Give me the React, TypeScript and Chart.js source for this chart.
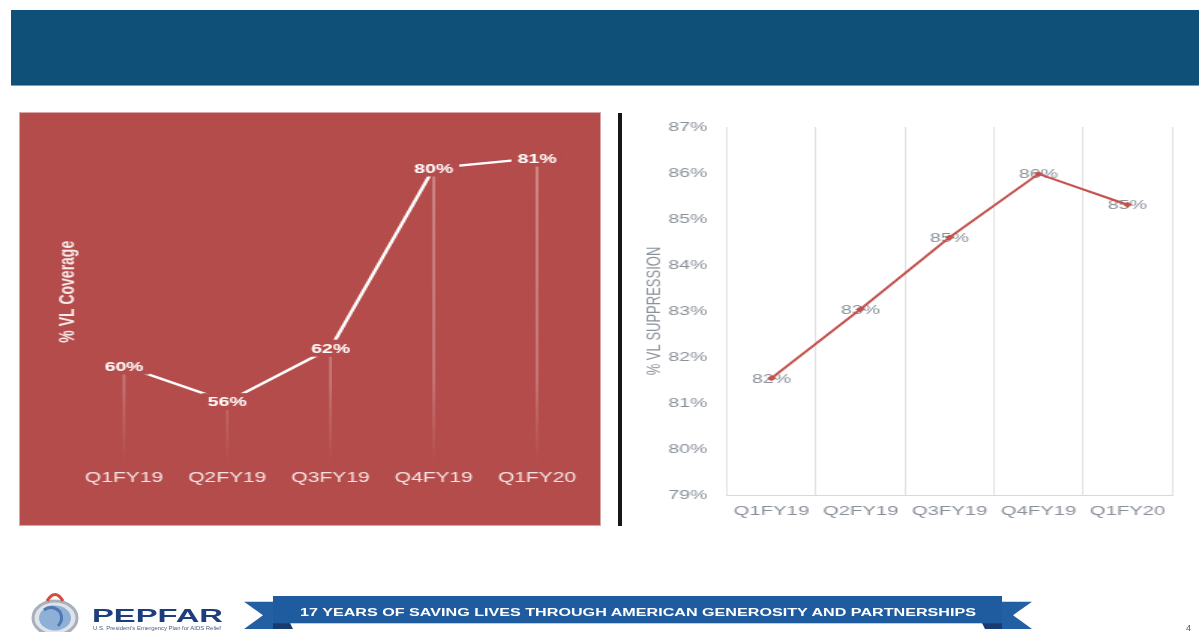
import React, { useEffect, useRef } from "react";
import { Chart, registerables } from "chart.js";

Chart.register(...registerables);

// ---------- data ----------
const categories = ["Q1FY19", "Q2FY19", "Q3FY19", "Q4FY19", "Q1FY20"];
const coverageValues = [60, 56.4, 61.8, 80, 81];
const suppressionValues = [81.54, 83.04, 84.6, 85.98, 85.31];
const suppressionTicks = [79, 80, 81, 82, 83, 84, 85, 86, 87];
const coverageTitle = "% VL Coverage";
const suppressionTitle = "% VL SUPPRESSION";
const bannerText = "17 YEARS OF SAVING LIVES THROUGH AMERICAN GENEROSITY AND PARTNERSHIPS";
const logoText = "PEPFAR";
const logoTagline = "U.S. President's Emergency Plan for AIDS Relief";
const pageNumber = "4";

// ---------- styles ----------
const FONT = "'Liberation Sans', Arial, Helvetica, sans-serif";
const PANEL_RED = "#b44c4b";
const GRAY = "#8a9099";
const LINE_RED = "#c3504c";

const pct = (v: number) => `${Math.round(v)}%`;

const coverageLabels = {
  id: "coverageLabels",
  afterDatasetsDraw(chart: any) {
    const meta = chart.getDatasetMeta(1);
    const ctx = chart.ctx;
    ctx.save();
    ctx.font = `bold 13px ${FONT}`;
    ctx.textAlign = "center";
    ctx.textBaseline = "middle";
    meta.data.forEach((p: any, i: number) => {
      const txt = pct(coverageValues[i]);
      const w = ctx.measureText(txt).width + 8;
      const h = 17;
      ctx.fillStyle = PANEL_RED;
      ctx.fillRect(p.x - w / 2, p.y - h / 2, w, h);
      ctx.fillStyle = "#ffffff";
      ctx.fillText(txt, p.x, p.y + 1);
    });
    ctx.restore();
  },
};

const suppressionLabels = {
  id: "suppressionLabels",
  beforeDatasetsDraw(chart: any) {
    const meta = chart.getDatasetMeta(0);
    const ctx = chart.ctx;
    ctx.save();
    ctx.font = `13px ${FONT}`;
    ctx.fillStyle = GRAY;
    ctx.textAlign = "center";
    ctx.textBaseline = "middle";
    meta.data.forEach((p: any, i: number) => {
      ctx.fillText(pct(suppressionValues[i]), p.x, p.y + 1);
    });
    ctx.restore();
  },
};

function coverageConfig(): any {
  const dropLine = (c: any) => {
    const chart = c.chart;
    const a = chart.chartArea;
    if (!a) return "rgba(255,255,255,0.35)";
    const g = chart.ctx.createLinearGradient(0, a.top, 0, a.bottom);
    g.addColorStop(0, "rgba(255,255,255,0.42)");
    g.addColorStop(0.75, "rgba(255,255,255,0.28)");
    g.addColorStop(1, "rgba(255,255,255,0)");
    return g;
  };
  return {
    type: "line",
    data: {
      labels: categories,
      datasets: [
        { type: "bar", data: coverageValues, backgroundColor: dropLine, barThickness: 1, order: 2 },
        {
          type: "line",
          data: coverageValues,
          borderColor: "#ffffff",
          borderWidth: 2.4,
          pointRadius: 0,
          tension: 0,
          order: 1,
        },
      ],
    },
    options: {
      animation: false,
      responsive: false,
      devicePixelRatio: 1,
      layout: { padding: { left: 19.3, right: 7.6, top: 5.5, bottom: 0 } },
      plugins: { legend: { display: false }, tooltip: { enabled: false } },
      scales: {
        x: {
          type: "category",
          offset: true,
          grid: { display: false, drawTicks: false },
          border: { display: false },
          ticks: { color: "rgba(255,255,255,0.85)", font: { family: FONT, size: 14 }, padding: 5, maxRotation: 0 },
          afterFit: (s: any) => {
            s.height = 60;
          },
        },
        y: {
          min: 50,
          max: 85,
          grid: { display: false, drawTicks: false },
          border: { display: false },
          ticks: { display: false },
          title: {
            display: true,
            text: coverageTitle,
            color: "#f7eaea",
            font: { family: FONT, size: 14, weight: "bold" },
            padding: { top: 4, bottom: 4 },
          },
          afterFit: (s: any) => {
            s.width = 15.67;
          },
        },
      },
    },
    plugins: [coverageLabels],
  };
}

function suppressionConfig(): any {
  return {
    type: "line",
    data: {
      labels: categories,
      datasets: [
        {
          data: suppressionValues,
          borderColor: LINE_RED,
          backgroundColor: LINE_RED,
          borderWidth: 2,
          pointStyle: "rectRot",
          pointRadius: 3,
          pointBorderWidth: 0,
          tension: 0,
        },
      ],
    },
    options: {
      animation: false,
      responsive: false,
      devicePixelRatio: 1,
      layout: { padding: { left: 4.85, right: 18, top: 14, bottom: 0 } },
      plugins: { legend: { display: false }, tooltip: { enabled: false } },
      scales: {
        x: {
          type: "category",
          offset: true,
          grid: { offset: true, color: "#e2e2e2", lineWidth: 1, drawTicks: false },
          border: { display: true, color: "#d9d9d9", width: 1 },
          ticks: { color: GRAY, font: { family: FONT, size: 13.5 }, padding: 8, maxRotation: 0 },
          afterFit: (s: any) => {
            s.height = 38;
          },
        },
        y: {
          min: 79,
          max: 87,
          afterBuildTicks: (s: any) => {
            s.ticks = suppressionTicks.map((v) => ({ value: v }));
          },
          grid: {
            display: true,
            drawOnChartArea: false,
            drawTicks: true,
            tickLength: 7,
            tickColor: "rgba(0,0,0,0)",
          },
          border: { display: false },
          ticks: {
            color: GRAY,
            font: { family: FONT, size: 13 },
            padding: 6,
            callback: (v: any) => `${v}%`,
          },
          title: {
            display: true,
            text: suppressionTitle,
            color: GRAY,
            font: { family: FONT, size: 13 },
            padding: { top: 4, bottom: 4 },
          },
          afterFit: (s: any) => {
            s.width = 59.76;
          },
        },
      },
    },
    plugins: [suppressionLabels],
  };
}

function StretchedChart(props: {
  left: number;
  top: number;
  width: number;
  height: number;
  canvasWidth: number;
  build: () => any;
}) {
  const { left, top, width, height, canvasWidth, build } = props;
  const ref = useRef<HTMLCanvasElement>(null);
  useEffect(() => {
    const chart = new Chart(ref.current as HTMLCanvasElement, build());
    return () => chart.destroy();
  }, []);
  const k = width / canvasWidth;
  return (
    <div
      style={{
        position: "absolute",
        left,
        top,
        width: canvasWidth,
        height,
        transform: `scaleX(${k})`,
        transformOrigin: "0 0",
      }}
    >
      <canvas ref={ref} width={canvasWidth} height={height} style={{ display: "block", width: canvasWidth, height }} />
    </div>
  );
}

function Footer() {
  return (
    <svg
      width={1199}
      height={632}
      viewBox="0 0 1199 632"
      style={{ position: "absolute", left: 0, top: 0, pointerEvents: "none" }}
    >
      {/* logo */}
      <ellipse cx={55} cy={618} rx={22} ry={17} fill="#dfe3ea" stroke="#aab0ba" strokeWidth={3} />
      <ellipse cx={55} cy={618} rx={16} ry={12.5} fill="#8fb0d6" />
      <path d="M 44 610 Q 52 604 60 612 Q 64 620 58 626" fill="none" stroke="#4f79b0" strokeWidth={3} />
      <path d="M 47 601 Q 55 588 63 601" fill="none" stroke="#d8483c" strokeWidth={3} />
      <text
        x={92}
        y={622}
        fontFamily={FONT}
        fontWeight="bold"
        fontSize={19}
        fill="#1c3e7c"
        textLength={131}
        lengthAdjust="spacingAndGlyphs"
      >
        {logoText}
      </text>
      <text x={93} y={629.5} fontFamily={FONT} fontSize={4.5} fill="#4a5a80" textLength={128} lengthAdjust="spacingAndGlyphs">
        {logoTagline}
      </text>
      {/* ribbon */}
      <polygon points="244,601.7 290,601.7 290,629 244,629 263,615.3" fill="#2360a3" />
      <polygon points="1032,601.7 985,601.7 985,629 1032,629 1013,615.3" fill="#2360a3" />
      <polygon points="273,623 290,623 293,629 273,629" fill="#173d70" />
      <polygon points="982,623 1002,623 1002,629 985,629" fill="#173d70" />
      <rect x={273} y={596} width={729} height={27.3} fill="#1f5c9f" />
      <text
        x={300}
        y={615.7}
        fontFamily={FONT}
        fontWeight="bold"
        fontSize={11.7}
        fill="#ffffff"
        textLength={676}
        lengthAdjust="spacingAndGlyphs"
      >
        {bannerText}
      </text>
      <text x={1186} y={631} fontFamily={FONT} fontSize={9} fill="#555555">
        {pageNumber}
      </text>
    </svg>
  );
}

export default function App() {
  return (
    <div
      style={{
        position: "fixed",
        left: 0,
        top: 0,
        width: 1199,
        height: 632,
        background: "#ffffff",
        overflow: "hidden",
        fontFamily: FONT,
      }}
    >
      <div
        style={{
          position: "absolute",
          left: 11,
          top: 10,
          width: 1188,
          height: 76,
          background: "#0f5078",
          borderBottom: "1px solid #7d9db8",
          boxSizing: "border-box",
        }}
      />
      <div
        style={{
          position: "absolute",
          left: 20,
          top: 113,
          width: 580,
          height: 412,
          background: PANEL_RED,
          boxShadow: "0 0 0 1px #d8a9a8",
        }}
      />
      <StretchedChart left={20} top={113} width={580} height={412} canvasWidth={387} build={coverageConfig} />
      <div style={{ position: "absolute", left: 618, top: 113, width: 4, height: 413, background: "#161616" }} />
      <StretchedChart left={630} top={113} width={569} height={420} canvasWidth={379} build={suppressionConfig} />
      <Footer />
    </div>
  );
}
